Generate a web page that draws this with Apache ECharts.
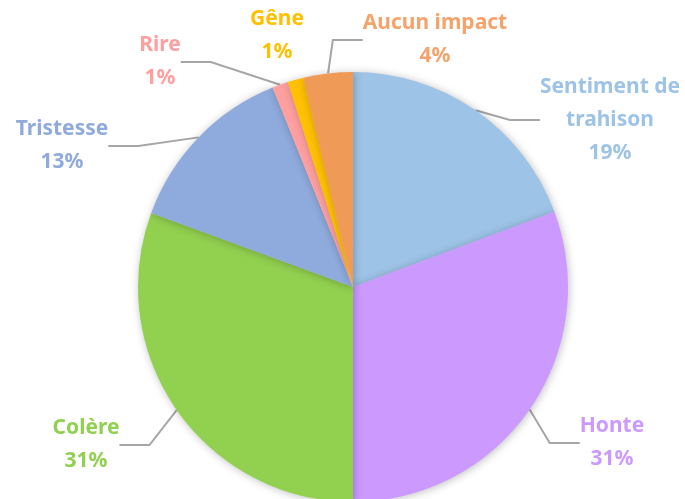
<!DOCTYPE html>
<html>
<head>
<meta charset="utf-8">
<script src="https://cdn.jsdelivr.net/npm/echarts@6/dist/echarts.min.js"></script>
<style>
  html, body { margin: 0; padding: 0; background: #fff; }
  #chart { width: 685px; height: 499px; }
</style>
</head>
<body>
<div id="chart"></div>
<script>
// data
const categories = ['Sentiment de\ntrahison', 'Honte', 'Colère', 'Tristesse', 'Rire', 'Gêne', 'Aucun impact']
const values = [19.3, 30.7, 30.6, 13.3, 1.2, 1.2, 3.7]
const colors = ['#9dc3e6', '#cc99ff', '#92d050', '#8faadc', '#ff9f9f', '#ffc000', '#f09a58']
const labelColors = ['#9dc3e6', '#cc99ff', '#92d050', '#8faadc', '#ff9f9f', '#ffc000', '#f4a36a']
const showLine = [true, true, true, true, true, false, true]

// label centres (layout only)
const labelPos = [[610, 120], [612, 443], [86, 445], [62, 146], [160, 62], [277, 36], [435, 40]]

const chart = echarts.init(document.getElementById('chart'))
chart.setOption({
  animation: false,
  series: [{
    type: 'pie',
    center: [353, 287],
    radius: 215,
    startAngle: 90,
    clockwise: true,
    data: categories.map((name, i) => ({
      name: name,
      value: values[i],
      itemStyle: { color: colors[i] },
      label: { color: labelColors[i] },
      labelLine: { show: showLine[i], lineStyle: { opacity: showLine[i] ? 1 : 0 } }
    })),
    itemStyle: {
      shadowBlur: 8,
      shadowColor: 'rgba(0,0,0,0.25)',
      shadowOffsetX: 1,
      shadowOffsetY: 1
    },
    label: {
      show: true,
      formatter: p => p.name + '\n' + Math.round(p.value) + '%',
      fontFamily: 'Noto Sans',
      fontWeight: 'bold',
      fontSize: 21,
      lineHeight: 33,
      align: 'center',
      overflow: 'none'
    },
    labelLine: {
      show: true,
      lineStyle: { color: '#a6a6a6', width: 2 }
    },
    labelLayout: function (params) {
      const p = labelPos[params.dataIndex]
      return {
        x: p[0],
        y: p[1],
        align: 'center',
        verticalAlign: 'middle'
      }
    }
  }]
})
</script>
</body>
</html>
